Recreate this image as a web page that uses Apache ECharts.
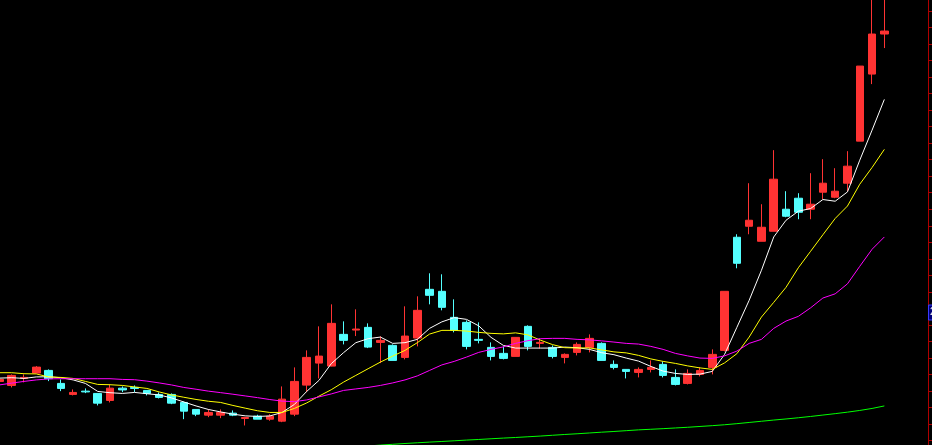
<!DOCTYPE html>
<html>
<head>
<meta charset="utf-8">
<script src="https://cdn.jsdelivr.net/npm/echarts@6/dist/echarts.min.js"></script>
<style>
html,body{margin:0;padding:0;background:#000;}
#c{width:932px;height:445px;}
</style>
</head>
<body>
<div id="c"></div>
<script>
// Daily K-line values (price units)
const open = [22.4, 22.0, 22.7, 23.23, 23.5, 22.2, 21.1, 21.43, 21.2, 20.5,
  21.73, 21.8, 21.5, 21.1, 21.1, 20.3, 19.6, 19.03, 19.03, 19.23,
  18.7, 18.93, 18.63, 18.43, 19.13, 22.03, 24.23, 23.93, 27.1, 27.53,
  27.8, 26.3, 26.0, 24.8, 26.73, 31.6, 31.4, 28.8, 28.3, 26.6,
  25.8, 25.2, 24.9, 27.9, 26.2, 25.8, 24.8, 25.3, 25.8, 26.2,
  24.1, 23.6, 23.3, 23.6, 24.1, 22.8, 22.2, 23.1, 23.8, 25.5,
  36.8, 37.9, 36.4, 37.4, 39.6, 40.7, 39.6, 41.3, 40.8, 42.2,
  46.4, 53.1, 57.1];
const close = [22.6, 23.0, 22.8, 23.83, 22.67, 21.7, 21.3, 21.35, 20.23, 21.73,
  21.55, 21.7, 21.2, 20.8, 20.23, 19.43, 19.13, 19.3, 19.3, 19.03,
  18.8, 18.63, 18.93, 20.63, 22.4, 24.8, 24.93, 28.2, 26.5, 27.63,
  25.83, 26.5, 24.5, 26.93, 29.5, 31.0, 29.8, 27.5, 25.9, 26.5,
  24.9, 24.7, 26.8, 25.9, 26.3, 24.9, 25.1, 26.1, 26.7, 24.5,
  23.8, 23.4, 23.6, 23.8, 23.0, 22.1, 23.2, 23.5, 25.1, 31.4,
  34.2, 38.5, 37.8, 42.6, 38.9, 39.3, 40.1, 42.2, 41.4, 43.9,
  53.9, 57.1, 57.4];
const low = [22.3, 21.8, 22.3, 23.23, 22.43, 21.43, 21.0, 21.23, 20.0, 20.3,
  21.33, 21.33, 21.0, 20.7, 20.13, 18.63, 18.93, 18.83, 18.73, 18.93,
  18.0, 18.63, 18.47, 18.33, 18.93, 21.33, 22.7, 23.9, 26.1, 26.93,
  25.73, 24.23, 24.5, 24.6, 25.9, 30.1, 29.5, 27.3, 25.6, 26.2,
  24.5, 24.6, 24.9, 25.5, 25.7, 24.7, 24.2, 25.0, 25.3, 24.5,
  23.6, 22.7, 22.8, 23.3, 22.8, 22.0, 22.1, 22.9, 23.1, 25.4,
  33.7, 37.1, 36.4, 37.4, 38.8, 38.6, 38.6, 40.6, 40.7, 41.4,
  46.4, 52.1, 55.7];
const high = [22.7, 23.1, 23.1, 23.93, 23.6, 22.6, 21.6, 21.7, 21.2, 22.07,
  21.9, 22.0, 21.5, 21.3, 21.2, 20.4, 19.6, 19.63, 19.6, 19.5,
  18.8, 19.07, 19.13, 21.9, 23.8, 25.5, 27.9, 30.1, 28.4, 29.6,
  28.2, 26.9, 26.1, 29.9, 30.9, 33.2, 33.1, 30.6, 28.5, 28.3,
  26.3, 25.9, 26.8, 28.0, 26.7, 26.0, 25.2, 26.3, 27.1, 26.3,
  24.5, 23.6, 23.8, 24.5, 24.4, 23.6, 23.6, 23.8, 25.6, 31.4,
  37.1, 42.2, 40.1, 45.5, 41.4, 41.2, 43.2, 44.6, 43.7, 45.4,
  53.9, 62.5, 62.5];

// Moving averages
const ma5 = [22.73, 22.77, 22.7, 22.85, 22.87, 22.77, 22.55, 22.2, 21.4, 21.27,
  21.2, 21.3, 21.17, 21.05, 20.75, 20.35, 19.95, 19.6, 19.35, 19.13,
  18.96, 18.9, 18.95, 19.3, 20.1, 21.4, 22.5, 24.17, 25.27, 26.27,
  26.67, 26.83, 26.2, 26.27, 26.6, 27.7, 28.35, 28.77, 28.6, 27.95,
  26.8, 26.0, 25.73, 25.73, 25.73, 25.73, 25.83, 25.77, 25.6, 25.27,
  25.07, 24.73, 24.43, 23.9, 23.43, 23.2, 23.1, 23.13, 23.4, 25.1,
  27.8, 30.5, 33.5, 36.83, 38.5, 39.4, 39.67, 40.57, 40.4, 41.33,
  44.5, 47.5, 50.57];
const ma10 = [23.27, 23.27, 23.17, 23.15, 22.85, 22.8, 22.7, 22.4, 22.1, 22.07,
  22.0, 21.85, 21.7, 21.35, 21.05, 20.82, 20.6, 20.42, 20.3, 20.0,
  19.73, 19.47, 19.3, 19.3, 19.7, 20.25, 20.93, 21.57, 22.33, 23.0,
  23.67, 24.33, 24.93, 25.5, 26.27, 27.13, 27.5, 27.5, 27.43, 27.3,
  27.2, 27.15, 27.25, 27.05, 26.53, 26.08, 25.77, 25.74, 25.75, 25.55,
  25.35, 25.25, 25.0, 24.65, 24.4, 24.2, 23.95, 23.75, 23.6, 24.25,
  25.17, 26.83, 28.83, 30.3, 31.8, 33.75, 35.4, 37.05, 38.68, 39.92,
  42.1, 43.77, 45.58];
const ma20 = [22.05, 22.23, 22.4, 22.55, 22.65, 22.67, 22.67, 22.67, 22.67, 22.67,
  22.6, 22.57, 22.43, 22.25, 22.05, 21.8, 21.62, 21.43, 21.28, 21.12,
  20.95, 20.78, 20.59, 20.43, 20.38, 20.55, 20.85, 21.15, 21.5, 21.65,
  21.8, 22.0, 22.25, 22.55, 22.95, 23.5, 24.05, 24.4, 24.83, 25.3,
  25.6, 25.85, 26.2, 26.47, 26.67, 26.7, 26.7, 26.6, 26.55, 26.45,
  26.33, 26.2, 26.13, 25.9, 25.6, 25.2, 24.95, 24.73, 24.7, 24.95,
  25.43, 26.2, 26.6, 27.7, 28.43, 28.9, 29.75, 30.73, 31.15, 32.15,
  33.9, 35.6, 36.83];
const ma60 = [null, null, null, null, null, null, null, null, null, null,
  null, null, null, null, null, null, null, null, null, null,
  null, null, null, null, null, null, null, null, 15.8, 15.87,
  15.95, 16.04, 16.12, 16.2, 16.27, 16.34, 16.4, 16.47, 16.54, 16.6,
  16.67, 16.74, 16.8, 16.87, 16.94, 17.02, 17.1, 17.17, 17.25, 17.33,
  17.4, 17.48, 17.56, 17.62, 17.68, 17.75, 17.82, 17.9, 17.98, 18.07,
  18.18, 18.3, 18.42, 18.54, 18.65, 18.77, 18.9, 19.04, 19.18, 19.33,
  19.5, 19.7, 19.95];

const categories = open.map((_, i) => 'D' + (i + 1));
const kData = open.map((o, i) => [o, close[i], low[i], high[i]]);

const UP = '#ff3333', DOWN = '#54ffff', AXIS = '#b00000';

const chart = echarts.init(document.getElementById('c'), null, {renderer: 'canvas'});
chart.setOption({
  backgroundColor: '#000000',
  animation: false,
  grid: {left: -6.75, width: 897.25, top: -5.5, height: 462.5,
         containLabel: false, outerBoundsMode: 'none'},
  xAxis: {
    type: 'category', data: categories, boundaryGap: true, show: false
  },
  yAxis: [
    {type: 'value', min: 14.85, max: 61.05, show: false, scale: true},
    {type: 'value', min: 0, max: 28, interval: 1, position: 'right', offset: 37.5,
     axisLine: {show: true, lineStyle: {color: AXIS, width: 1}},
     axisTick: {show: true, inside: false, length: 4, lineStyle: {color: AXIS, width: 1}},
     axisLabel: {show: false}, splitLine: {show: false}}
  ],
  series: [
    {type: 'candlestick', data: kData, barWidth: 8, clip: true,
     itemStyle: {color: UP, color0: DOWN, borderColor: UP, borderColor0: DOWN, borderWidth: 1}},
    {type: 'line', data: ma5, symbol: 'none', lineStyle: {color: '#ffffff', width: 1}, z: 3},
    {type: 'line', data: ma10, symbol: 'none', lineStyle: {color: '#ffff00', width: 1}, z: 3},
    {type: 'line', data: ma20, symbol: 'none', lineStyle: {color: '#ff00ff', width: 1}, z: 3},
    {type: 'line', data: ma60, symbol: 'none', lineStyle: {color: '#00ff00', width: 1}, z: 3, clip: true}
  ],
  graphic: [
    {type: 'rect', shape: {x: 928.5, y: 305, width: 6, height: 15},
     style: {fill: '#00007a', stroke: '#3a3aff', lineWidth: 1}, z: 10},
    {type: 'text', x: 930, y: 307, style: {text: '2', fill: '#ffffff', font: '10px sans-serif'}, z: 11}
  ]
});
</script>
</body>
</html>
